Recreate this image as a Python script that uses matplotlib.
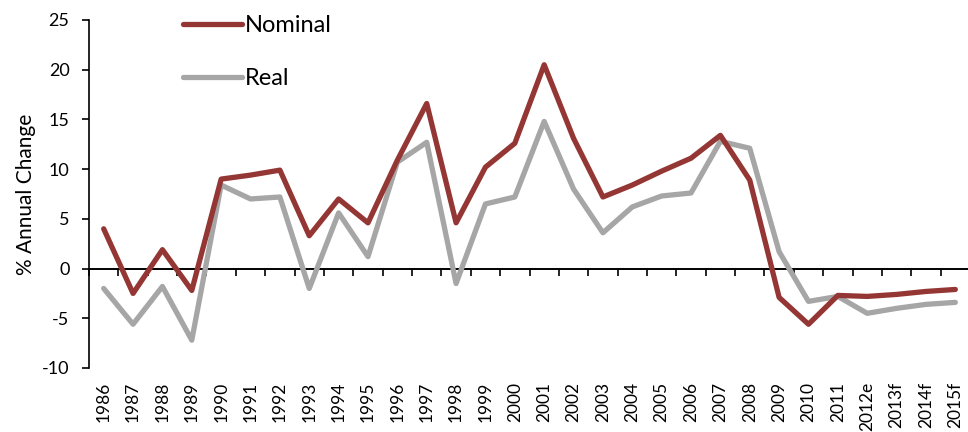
import matplotlib
matplotlib.use("Agg")
import matplotlib.pyplot as plt
import numpy as np

plt.rcParams["font.family"] = ["Lato", "DejaVu Sans"]
plt.rcParams["axes.unicode_minus"] = False

years = ["1986", "1987", "1988", "1989", "1990", "1991", "1992", "1993", "1994",
         "1995", "1996", "1997", "1998", "1999", "2000", "2001", "2002", "2003",
         "2004", "2005", "2006", "2007", "2008", "2009", "2010", "2011", "2012e",
         "2013f", "2014f", "2015f"]
nominal = [4.0, -2.5, 1.9, -2.2, 9.0, 9.4, 9.9, 3.3, 7.0, 4.6, 10.9, 16.6, 4.6,
           10.2, 12.6, 20.5, 13.1, 7.2, 8.4, 9.8, 11.1, 13.4, 8.9, -2.9, -5.6,
           -2.7, -2.8, -2.6, -2.3, -2.1]
real = [-2.0, -5.6, -1.8, -7.2, 8.4, 7.0, 7.2, -2.0, 5.6, 1.2, 10.7, 12.7, -1.5,
        6.5, 7.2, 14.8, 8.0, 3.6, 6.2, 7.3, 7.6, 12.8, 12.1, 1.7, -3.3, -2.8,
        -4.5, -4.0, -3.6, -3.4]

RED = "#943634"
GREY = "#A6A6A6"

fig = plt.figure(figsize=(9.68, 4.32), dpi=100)
ax = fig.add_axes([89 / 968, 1 - 368 / 432, (970 - 89) / 968, 348 / 432])

x = np.arange(len(years))
ax.plot(x, nominal, color=RED, lw=3.8, label="Nominal", solid_capstyle="round", zorder=3)
ax.plot(x, real, color=GREY, lw=3.8, label="Real", solid_capstyle="round", zorder=2)

ax.set_xlim(-0.5, len(years) - 0.5)
ax.set_ylim(-10, 25)
ax.set_yticks(range(-10, 30, 5))
ax.tick_params(axis="y", direction="out", length=5, width=1.2, labelsize=13, pad=9)

# category labels at the bottom, no marks
ax.set_xticks(x)
ax.set_xticklabels(years, rotation=90)
ax.tick_params(axis="x", length=0, labelsize=12.5, pad=10)

for sp in ["top", "right", "bottom"]:
    ax.spines[sp].set_visible(False)
ax.spines["left"].set_linewidth(1.2)

# axis line crossing at zero with category boundary ticks
zx = ax.secondary_xaxis(0, transform=ax.transData)
zx.set_xticks(np.arange(-0.5, len(years), 1.0))
zx.set_xticklabels([])
zx.tick_params(direction="out", length=5, width=1.2)
zx.spines["bottom"].set_linewidth(1.4)

ax.set_ylabel("% Annual Change", fontsize=15, labelpad=4)

ax.legend(loc="upper left", bbox_to_anchor=(183 / 968, 0.965), bbox_transform=fig.transFigure,
          frameon=False, fontsize=17, handlelength=2.5, handletextpad=0.1,
          labelspacing=1.35, borderpad=0, borderaxespad=0)

fig.savefig("out.png", dpi=100)
